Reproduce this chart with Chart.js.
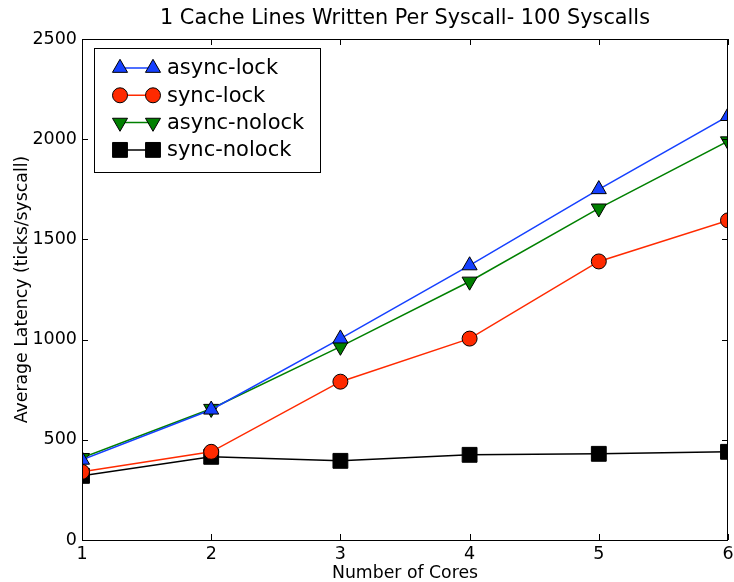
<!DOCTYPE html>
<html>
<head>
    <title>Cache Lines Written Per Syscall</title>
    <script src="https://cdn.jsdelivr.net/npm/chart.js"></script>
    <style>
        body { margin: 0; background: #fff; }
    </style>
</head>
<body>
    <canvas id="myChart" width="734" height="582"></canvas>

    <script>
        // x = number of cores
        const cores = [1, 2, 3, 4, 5, 6];
        const asyncLock = [400, 650, 1005, 1370, 1750, 2115];
        const syncLock = [340, 440, 790, 1005, 1390, 1595];
        const asyncNolock = [410, 655, 965, 1290, 1655, 1990];
        const syncNolock = [320, 415, 395, 425, 430, 440];
        const yTicks = [0, 500, 1000, 1500, 2000, 2500];

        const FONT = "'DejaVu Sans', sans-serif";

        function pts(vals) {
            return vals.map((v, i) => ({ x: cores[i], y: v }));
        }

        function series(label, vals, color, style, radius, rotation) {
            return {
                label: label,
                data: pts(vals),
                borderColor: color,
                backgroundColor: color,
                borderWidth: 1.5,
                pointStyle: style,
                pointRadius: radius,
                pointRotation: rotation || 0,
                pointBackgroundColor: color,
                pointBorderColor: '#000',
                pointBorderWidth: 1,
                tension: 0,
                clip: 0
            };
        }

        const data = {
            datasets: [
                series('async-lock', asyncLock, '#1540ff', 'triangle', 8.7),
                series('sync-lock', syncLock, '#ff2a00', 'circle', 7.5),
                series('async-nolock', asyncNolock, '#008000', 'triangle', 8.7, 180),
                series('sync-nolock', syncNolock, '#000000', 'rect', 10.5)
            ]
        };

        // box round the plot, inward ticks, title and the legend box
        const framePlugin = {
            id: 'frame',
            afterLayout(chart) {
                // plot runs to 6px from the right edge, like the original
                const xs = chart.scales.x;
                const right = chart.width - 6;
                chart.chartArea.right = right;
                chart.chartArea.width = right - chart.chartArea.left;
                xs.right = right;
                xs.width = right - xs.left;
                xs.configure();
            },
            afterDraw(chart) {
                const ctx = chart.ctx;
                const a = chart.chartArea;
                const xs = chart.scales.x, ys = chart.scales.y;
                ctx.save();
                ctx.strokeStyle = '#000';
                ctx.lineWidth = 1;
                ctx.strokeRect(a.left + 0.5, a.top + 0.5, a.right - a.left - 1, a.bottom - a.top);

                ctx.beginPath();
                cores.forEach(c => {
                    const px = Math.round(xs.getPixelForValue(c)) + 0.5;
                    ctx.moveTo(px, a.bottom); ctx.lineTo(px, a.bottom - 6);
                    ctx.moveTo(px, a.top); ctx.lineTo(px, a.top + 6);
                });
                yTicks.forEach(t => {
                    const py = Math.round(ys.getPixelForValue(t)) + 0.5;
                    ctx.moveTo(a.left, py); ctx.lineTo(a.left + 6, py);
                    ctx.moveTo(a.right, py); ctx.lineTo(a.right - 6, py);
                });
                ctx.stroke();

                // title
                ctx.fillStyle = '#000';
                ctx.font = '20.8px ' + FONT;
                ctx.textAlign = 'center';
                ctx.textBaseline = 'middle';
                ctx.fillText('1 Cache Lines Written Per Syscall- 100 Syscalls', (a.left + a.right) / 2, 19);

                // legend
                const bx = a.left + 12, by = a.top + 9, bw = 226, bh = 124;
                ctx.fillStyle = '#fff';
                ctx.fillRect(bx, by, bw, bh);
                ctx.strokeRect(bx + 0.5, by + 0.5, bw, bh);
                ctx.font = '21px ' + FONT;
                ctx.textAlign = 'left';
                chart.data.datasets.forEach((ds, i) => {
                    const y = by + 20 + i * 27.3;
                    const x1 = bx + 26, x2 = bx + 59;
                    ctx.strokeStyle = ds.borderColor;
                    ctx.lineWidth = 1.5;
                    ctx.beginPath();
                    ctx.moveTo(x1, y); ctx.lineTo(x2, y);
                    ctx.stroke();
                    ctx.fillStyle = ds.pointBackgroundColor;
                    ctx.strokeStyle = '#000';
                    ctx.lineWidth = 1;
                    const opts = { pointStyle: ds.pointStyle, rotation: ds.pointRotation, radius: ds.pointRadius, borderWidth: 1 };
                    Chart.helpers.drawPoint(ctx, opts, x1, y);
                    Chart.helpers.drawPoint(ctx, opts, x2, y);
                    ctx.fillStyle = '#000';
                    ctx.fillText(ds.label, bx + 73, y + 1);
                });
                ctx.restore();
            }
        };

        const config = {
            type: 'line',
            data: data,
            options: {
                responsive: false,
                animation: false,
                layout: { padding: { top: 39, right: 0, left: 0, bottom: 0 } },
                plugins: {
                    legend: { display: false },
                    title: { display: false },
                    tooltip: { enabled: false }
                },
                scales: {
                    x: {
                        type: 'linear',
                        min: 1,
                        max: 6,
                        afterFit: (s) => { s.height = 42; },
                        afterBuildTicks: (s) => { s.ticks = cores.map(v => ({ value: v })); },
                        grid: { display: false, drawTicks: false },
                        border: { display: false },
                        ticks: {
                            color: '#000', font: { family: FONT, size: 17.5 }, padding: 4, maxRotation: 0,
                            callback: (v) => String(v)
                        },
                        title: {
                            display: true,
                            text: 'Number of Cores',
                            color: '#000',
                            font: { family: FONT, size: 17.3 },
                            padding: { top: 0, bottom: -2 }
                        }
                    },
                    y: {
                        min: 0,
                        max: 2500,
                        afterFit: (s) => { s.width = 82; },
                        afterBuildTicks: (s) => { s.ticks = yTicks.map(v => ({ value: v })); },
                        grid: { display: false, drawTicks: false },
                        border: { display: false },
                        ticks: {
                            color: '#000', font: { family: FONT, size: 17.5 }, padding: 5,
                            callback: (v) => String(v)
                        },
                        title: {
                            display: true,
                            text: 'Average Latency (ticks/syscall)',
                            color: '#000',
                            font: { family: FONT, size: 17.3 },
                            padding: { top: 12, bottom: 0 }
                        }
                    }
                }
            },
            plugins: [framePlugin]
        };

        const myChart = new Chart(document.getElementById('myChart'), config);
    </script>
</body>
</html>
